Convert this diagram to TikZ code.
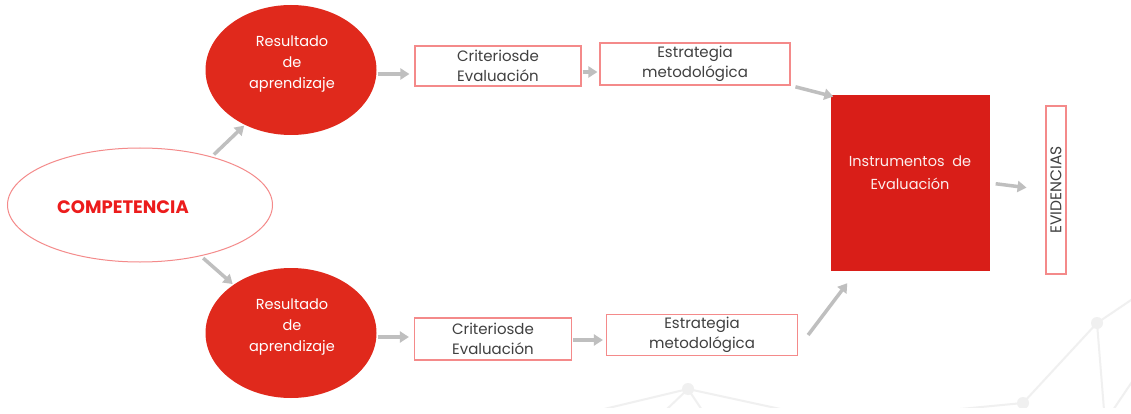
\documentclass[tikz,border=0pt]{standalone}
\usepackage{fontspec}
\setmainfont{Poppins}
\usetikzlibrary{shapes.geometric,arrows.meta}
\definecolor{rojo}{HTML}{E0291C}
\definecolor{rojoinst}{HTML}{D91E18}
\definecolor{rojotxt}{HTML}{EC1C1C}
\definecolor{rosa}{HTML}{F48A8A}
\definecolor{texto}{HTML}{404040}
\definecolor{flechagris}{HTML}{BFBFBF}
\definecolor{fondogris}{HTML}{F0F0F0}
\tikzset{
  resultado/.style={ellipse,fill=rojo,minimum width=171pt,minimum height=130pt,inner sep=0pt},
  resultadotxt/.style={text=white,align=center,font=\fontsize{14.5}{21}\selectfont},
  caja/.style={draw=rosa,line width=1.2pt,text=texto,align=center,inner sep=0pt,
    font=\fontsize{15}{20}\selectfont},
  flecha/.style={draw=flechagris,line width=3.5pt,-{Triangle[length=9pt,width=11pt]}},
  fondo/.style={draw=fondogris,line width=2pt}
}
\begin{document}
\begin{tikzpicture}[x=1pt,y=-1pt]
	  \useasboundingbox[fill=white] (0,0) rectangle (1131,414);
	  % fondo de red
	  \begin{scope}
	  \clip (0,0) rectangle (1131,407);
	  \draw[fondo] (600,410) -- (688,389) -- (785,410);
	  \draw[fondo] (666,410) -- (688,389) -- (702,410);
	  \draw[fondo] (1140,294) -- (1097,323) -- (1104,410);
	  \draw[fondo] (1097,323) -- (1023,403) -- (950,410);
	  \draw[fondo] (1140,370) -- (1113,410);
	  \fill[fondogris] (688,389) circle (6) (1097,323) circle (6) (1023,403) circle (6);
	  \end{scope}

	  \node[ellipse,draw=rosa,line width=1pt,minimum width=265pt,minimum height=114pt,inner sep=0pt] (comp) at (140,205) {};
	  \node[text=rojotxt,font=\bfseries\fontsize{18}{20}\selectfont] (comptxt) at (123,207) {COMPETENCIA};

	  \node[resultado] (res1) at (291,70) {};
	  \node[resultadotxt] (res1txt) at (292,64) {Resultado\\de\\aprendizaje};
	  \node[resultado] (res2) at (291,333) {};
	  \node[resultadotxt] (res2txt) at (292,327) {Resultado\\de\\aprendizaje};

	  \node[caja,minimum width=166pt,minimum height=40pt] (crit1) at (498,66) {Criteriosde\\Evaluación};
	  \node[caja,minimum width=190pt,minimum height=42pt] (estrat1) at (695,64) {Estrategia\\metodológica};
	  \node[caja,minimum width=157pt,minimum height=42pt] (crit2) at (493,339) {Criteriosde\\Evaluación};
	  \node[caja,minimum width=191pt,minimum height=41pt] (estrat2) at (702,335) {Estrategia\\metodológica};

	  \node[fill=rojoinst,minimum width=159pt,minimum height=176pt,inner sep=0pt] (instr) at (910,183) {};
	  \node[text=white!92!rojo,align=center,font=\fontsize{14.5}{23}\selectfont] (instrtxt) at (910,173) {Instrumentos~~de\\Evaluación};
	  \node[caja,minimum width=20pt,minimum height=168pt] (evid) at (1056,190) {};
	  \node[text=texto,rotate=90,font=\fontsize{15.5}{16}\selectfont] (evidtxt) at (1056,190) {EVIDENCIAS};

	  \draw[flecha,shorten <=3pt,shorten >=1pt] (comp.34) -- (res1.230);
	  \draw[flecha,shorten <=3pt,shorten >=1pt] (comp.320) -- (res2.140);
	  \draw[flecha,shorten <=1pt,shorten >=5pt] ([yshift=-4pt]res1.east) -- ([yshift=-4pt]res1.east -| crit1.west);
	  \draw[flecha,shorten <=1pt,shorten >=2pt] ([yshift=-6pt]crit1.east) -- ([yshift=-6pt]crit1.east -| estrat1.west);
	  \draw[flecha,shorten <=5pt,shorten >=1pt] (estrat1.south east) -- ([xshift=4pt,yshift=-2pt]instr.north west);
	  \draw[flecha,shorten <=1pt,shorten >=5pt] ([yshift=-4pt]res2.east) -- ([yshift=-4pt]res2.east -| crit2.west);
	  \draw[flecha,shorten <=1pt,shorten >=3pt] ([yshift=-1pt]crit2.east) -- ([yshift=-1pt]crit2.east -| estrat2.west);
	  \draw[flecha] ([xshift=10pt]estrat2.east) -- ([xshift=17pt,yshift=-12pt]instr.south west);
	  \draw[flecha,shorten <=6pt,shorten >=19pt] (instr.east) -- (evid.west);
	\end{tikzpicture}
\end{document}
